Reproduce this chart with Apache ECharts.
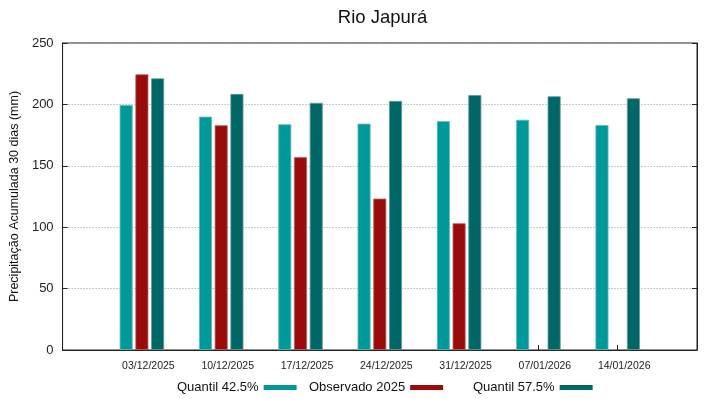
<!DOCTYPE html>
<html>
<head>
<meta charset="utf-8">
<script src="https://cdn.jsdelivr.net/npm/echarts@6/dist/echarts.min.js"></script>
<style>
html, body { margin: 0; padding: 0; background: #fff; }
#main { width: 719px; height: 399px; }
</style>
</head>
<body>
<div id="main"></div>
<script>
// 数据
var categories = ['', '03/12/2025', '10/12/2025', '17/12/2025', '24/12/2025', '31/12/2025', '07/01/2026', '14/01/2026', ''];
var quantil425 = [null, 199.5, 190.0, 183.8, 184.3, 186.3, 187.5, 183.2, null];
var observado2025 = [null, 224.5, 183.0, 157.0, 123.3, 103.2, null, null, null];
var quantil575 = [null, 221.2, 208.5, 201.2, 202.8, 207.6, 206.6, 205.0, null];
var yTicks = [0, 50, 100, 150, 200, 250];

var myChart = echarts.init(document.getElementById('main'));
var font = 'Liberation Sans, Arial, sans-serif';

function legendOf(name, left) { // 每个图例单独定位
    return {
        data: [name],
        left: left,
        top: 381,
        padding: 0,
        align: 'right',
        itemWidth: 33,
        itemHeight: 5,
        icon: 'rect',
        itemStyle: { borderWidth: 0 },
        textStyle: { fontFamily: font, fontSize: 13, color: '#111' }
    };
}

function barSeries(name, color, edge, data) {
    return {
        name: name,
        type: 'bar',
        barWidth: 13,
        barGap: '21%',
        itemStyle: { color: color, borderColor: edge, borderWidth: 0.8 },
        data: data
    };
}

option = {
    animation: false,
    title: {
        text: 'Rio Japurá',
        left: 377.5,
        textAlign: 'center',
        top: 3,
        textStyle: { fontFamily: font, fontSize: 18.5, fontWeight: 'normal', color: '#111' }
    },
    legend: [
        legendOf('Quantil 42.5%', 177),
        legendOf('Observado 2025', 309),
        legendOf('Quantil 57.5%', 473)
    ],
    grid: {
        left: 58,
        right: 22,
        top: 43,
        bottom: 49,
        show: true,
        borderColor: '#222',
        borderWidth: 1
    },
    xAxis: {
        type: 'category',
        data: categories,
        boundaryGap: false,
        axisLine: { lineStyle: { color: '#222' } },
        axisTick: { inside: true, length: 5, interval: 0, lineStyle: { color: '#222' } },
        axisLabel: {
            interval: 0,
            margin: 11,
            padding: [0, 0, 0, 13],
            fontFamily: font,
            fontSize: 10.5,
            color: '#222'
        },
        splitLine: { show: false }
    },
    yAxis: [{
        type: 'value',
        min: yTicks[0],
        max: yTicks[yTicks.length - 1],
        interval: 50,
        name: 'Precipitação Acumulada 30 dias (mm)',
        nameLocation: 'middle',
        nameGap: 31,
        nameTextStyle: { fontFamily: font, fontSize: 12.5, color: '#111' },
        axisLine: { show: true, lineStyle: { color: '#222' } },
        axisTick: { show: true, inside: true, length: 5, lineStyle: { color: '#222' } },
        axisLabel: { margin: 9, fontFamily: font, fontSize: 13, color: '#222' },
        splitLine: { show: true, lineStyle: { color: '#999', type: [1, 2], width: 1 } }
    }, {
        type: 'value',
        position: 'right',
        min: yTicks[0],
        max: yTicks[yTicks.length - 1],
        interval: 50,
        axisLine: { show: true, lineStyle: { color: '#222' } },
        axisTick: { show: true, inside: true, length: 5, lineStyle: { color: '#222' } },
        axisLabel: { show: false },
        splitLine: { show: false }
    }],
    series: [
        barSeries('Quantil 42.5%', '#009999', '#5fbcbc', quantil425),
        barSeries('Observado 2025', '#990c0c', '#c06060', observado2025),
        barSeries('Quantil 57.5%', '#006666', '#5f9a9a', quantil575)
    ]
};

myChart.setOption(option);
</script>
</body>
</html>
